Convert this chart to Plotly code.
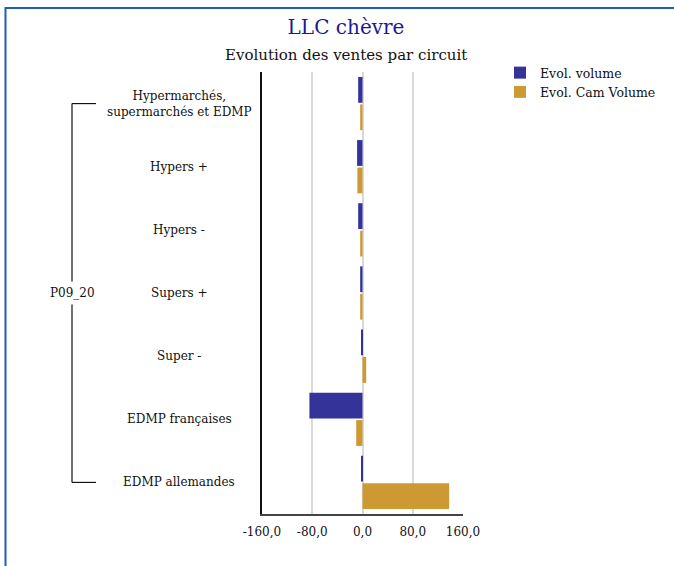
import plotly.graph_objects as go

categories = [
    "Hypermarchés,<br>supermarchés et EDMP",
    "Hypers +",
    "Hypers -",
    "Supers +",
    "Super -",
    "EDMP françaises",
    "EDMP allemandes",
]
group_label = "P09_20"
evol_volume = [-6.9, -8.6, -6.9, -3.7, -2.1, -84.5, -1.0]
evol_cam_volume = [-3.7, -8.1, -3.7, -3.7, 5.9, -10.0, 138.0]
x_ticks = [-160, -80, 0, 80, 160]
x_tick_labels = ["-160,0", "-80,0", "0,0", "80,0", "160,0"]

FONT = "DejaVu Serif"
W, H = 674, 566
L, R, T, B = 262, 211, 72, 52
PW, PH = W - L - R, H - T - B


def px_x(px):
    return (px - L) / PW


def px_y(py):
    return 1 - (py - T) / PH


fig = go.Figure()
fig.add_trace(go.Bar(
    y=categories, x=evol_volume, orientation="h", name="Evol. volume",
    marker=dict(color="#333399", line=dict(width=0)),
))
fig.add_trace(go.Bar(
    y=categories, x=evol_cam_volume, orientation="h", name="Evol. Cam Volume",
    marker=dict(color="#CC9933", line=dict(width=0)),
))

annotations = []
for c in categories:
    annotations.append(dict(
        x=px_x(179), xref="paper", y=c, yref="y", text=c, showarrow=False,
        xanchor="center", yanchor="middle", align="center",
        font=dict(family=FONT, size=12, color="#111111"),
    ))
annotations.append(dict(
    x=px_x(72), xref="paper", y=categories[3], yref="y", text=group_label,
    showarrow=False, xanchor="center", yanchor="middle", bgcolor="white",
    borderpad=4, font=dict(family=FONT, size=12, color="#111111"),
))
annotations.append(dict(
    x=px_x(346), xref="paper", y=px_y(55), yref="paper",
    text="Evolution des ventes par circuit", showarrow=False,
    xanchor="center", yanchor="middle",
    font=dict(family=FONT, size=15, color="#111111"),
))

shapes = [
    # bracket
    dict(type="line", xref="paper", yref="y", x0=px_x(72), x1=px_x(72),
         y0=0, y1=6, line=dict(color="#111111", width=1.2), layer="below"),
    dict(type="line", xref="paper", yref="y", x0=px_x(72), x1=px_x(96),
         y0=0, y1=0, line=dict(color="#111111", width=1.2)),
    dict(type="line", xref="paper", yref="y", x0=px_x(72), x1=px_x(96),
         y0=6, y1=6, line=dict(color="#111111", width=1.2)),
    # outer frame
    dict(type="rect", xref="paper", yref="paper", x0=px_x(5.5), x1=px_x(690),
         y0=px_y(600), y1=px_y(8), line=dict(color="#1F5FB4", width=2)),
]

fig.update_layout(
    width=W, height=H,
    margin=dict(l=L, r=R, t=T, b=B, autoexpand=False),
    paper_bgcolor="white", plot_bgcolor="white",
    barmode="group", bargap=0.13, bargroupgap=0.06,
    title=dict(text="LLC chèvre", x=346 / W, xanchor="center", xref="container",
               y=1 - 27 / H, yanchor="middle", yref="container",
               font=dict(family=FONT, size=20, color="#1A1A8C")),
    xaxis=dict(
        range=[-160, 160], tickvals=x_ticks, ticktext=x_tick_labels,
        showgrid=True, gridcolor="#D9D9D9", gridwidth=1.5,
        showline=True, linecolor="#444444", linewidth=1.5,
        zeroline=False, ticks="outside", ticklen=6, tickcolor="rgba(0,0,0,0)",
        tickfont=dict(family=FONT, size=12, color="#111111"),
        fixedrange=True,
    ),
    yaxis=dict(
        categoryorder="array", categoryarray=categories, autorange="reversed",
        showticklabels=False, showgrid=False, zeroline=False,
        showline=True, linecolor="#111111", linewidth=1.5,
    ),
    legend=dict(
        x=px_x(500), xanchor="left", y=px_y(58), yanchor="top",
        font=dict(family=FONT, size=12.5, color="#111111"),
        traceorder="normal", itemwidth=30, tracegroupgap=0,
        bgcolor="rgba(0,0,0,0)",
    ),
    annotations=annotations,
    shapes=shapes,
)

fig.write_html(
    "out.html",
    config={"displayModeBar": False},
    post_script="document.body.style.margin='0px';document.body.style.overflow='hidden';",
)
